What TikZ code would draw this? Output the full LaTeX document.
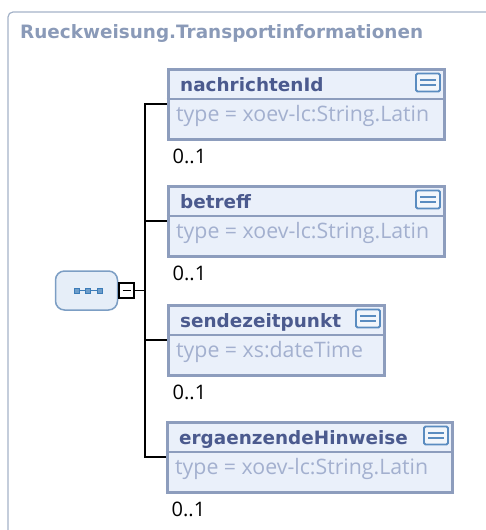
\documentclass[tikz,border=0pt]{standalone}
\usepackage{fontspec}
\setmainfont{Open Sans}
\newfontfamily\headfont{DejaVu Sans}

\definecolor{framegray}{HTML}{A4B2C8}
\definecolor{titlegray}{HTML}{8A9AB8}
\definecolor{boxborder}{HTML}{8D9DBD}
\definecolor{boxfill}{HTML}{EAF0FA}
\definecolor{headtext}{HTML}{4B5A8E}
\definecolor{typetext}{HTML}{A3B0CF}
\definecolor{iconblue}{HTML}{5A8CC0}
\definecolor{iconfill}{HTML}{F2F6FB}
\definecolor{seqborder}{HTML}{7C9EC4}
\definecolor{seqfill}{HTML}{E6EEF8}
\definecolor{seqdot}{HTML}{3C7CB8}

\begin{document}
\begin{tikzpicture}[x=1pt,y=-1pt,
  elem/.style={draw=boxborder,line width=3pt,fill=boxfill,minimum height=70pt,inner sep=0,anchor=north west},
  sepline/.style={draw=boxborder,line width=1.5pt},
  elemname/.style={anchor=base west,inner sep=0,text=headtext,font=\headfont\bfseries\fontsize{18.4}{21}\selectfont},
  elemtype/.style={anchor=base west,inner sep=0,text=typetext,font=\fontsize{21.3}{24}\selectfont},
  card/.style={anchor=north west,inner sep=0,font=\fontsize{20}{23}\selectfont},
  docicon/.style={draw=iconblue,line width=1.8pt,fill=iconfill,rounded corners=1.5pt,minimum width=24pt,minimum height=18pt,inner sep=0,
    path picture={\draw[iconblue,line width=1.2pt,sharp corners] ([xshift=-8pt,yshift=2.5pt]path picture bounding box.center) -- ++(16pt,0pt)
      ([xshift=-8pt,yshift=-2.5pt]path picture bounding box.center) -- ++(16pt,0pt);}},
  seqbox/.style={draw=seqborder,line width=1.5pt,fill=seqfill,rounded corners=9pt,minimum width=62pt,minimum height=39pt,inner sep=0,
    path picture={\draw[seqdot,line width=1pt,sharp corners] ([xshift=-10pt]path picture bounding box.center) -- ([xshift=13pt]path picture bounding box.center);
      \foreach \dx in {-10,1.5,13} \node[sharp corners,fill=seqdot!75,draw=seqdot,line width=0.6pt,minimum size=5pt,inner sep=0] at ([xshift=\dx pt]path picture bounding box.center) {};}},
  minusbox/.style={draw,line width=1.6pt,fill=white,minimum size=15.5pt,inner sep=0,
    path picture={\draw[line width=1.5pt] ([xshift=-4pt]path picture bounding box.center) -- ([xshift=4pt]path picture bounding box.center);}},
  conn/.style={line width=1.4pt}]

\useasboundingbox (0,0) rectangle (486,530);

% outer frame and title
\draw[framegray,line width=1.2pt,rounded corners=5pt] (8,540) -- (8,12) -- (496,12);
\node(title) [anchor=base west,inner sep=0,text=titlegray,font=\headfont\bfseries\fontsize{18.4}{21}\selectfont] at (20,38) {Rueckweisung.Transportinformationen};

% sequence
\node(seq) [seqbox] at (86.5,290.5) {};
\node(minus) [minusbox] at (126.5,290.5) {};
\coordinate(j) at (145,290.5);

% elements
\node(e1) [elem,minimum width=276pt] at (166.5,67.5) {};
\draw[sepline] ([yshift=-31.5pt]e1.north west) -- ([yshift=-31.5pt]e1.north east);
\node(n1) [elemname] at ([xshift=13.5pt,yshift=-24pt]e1.north west) {nachrichtenId};
\node(i1) [docicon] at ([xshift=-17.5pt,yshift=-15pt]e1.north east) {};
\node(t1) [elemtype] at ([xshift=9.5pt,yshift=-54pt]e1.north west) {type = xoev-lc:String.Latin};
\node(c1) [card] at ([xshift=6pt,yshift=-8pt]e1.south west) {0..1};

\node(e2) [elem,minimum width=276pt] at (166.5,184.5) {};
\draw[sepline] ([yshift=-31.5pt]e2.north west) -- ([yshift=-31.5pt]e2.north east);
\node(n2) [elemname] at ([xshift=13.5pt,yshift=-24pt]e2.north west) {betreff};
\node(i2) [docicon] at ([xshift=-17.5pt,yshift=-15pt]e2.north east) {};
\node(t2) [elemtype] at ([xshift=9.5pt,yshift=-54pt]e2.north west) {type = xoev-lc:String.Latin};
\node(c2) [card] at ([xshift=6pt,yshift=-8pt]e2.south west) {0..1};

\node(e3) [elem,minimum width=216pt] at (166.5,303.5) {};
\draw[sepline] ([yshift=-31.5pt]e3.north west) -- ([yshift=-31.5pt]e3.north east);
\node(n3) [elemname] at ([xshift=13.5pt,yshift=-24pt]e3.north west) {sendezeitpunkt};
\node(i3) [docicon] at ([xshift=-17.5pt,yshift=-15pt]e3.north east) {};
\node(t3) [elemtype] at ([xshift=9.5pt,yshift=-54pt]e3.north west) {type = xs:dateTime};
\node(c3) [card] at ([xshift=6pt,yshift=-8pt]e3.south west) {0..1};

\node(e4) [elem,minimum width=285pt] at (165.5,420.5) {};
\draw[sepline] ([yshift=-31.5pt]e4.north west) -- ([yshift=-31.5pt]e4.north east);
\node(n4) [elemname] at ([xshift=13.5pt,yshift=-24pt]e4.north west) {ergaenzendeHinweise};
\node(i4) [docicon] at ([xshift=-17.5pt,yshift=-15pt]e4.north east) {};
\node(t4) [elemtype] at ([xshift=9.5pt,yshift=-54pt]e4.north west) {type = xoev-lc:String.Latin};
\node(c4) [card] at ([xshift=6pt,yshift=-8pt]e4.south west) {0..1};

% connectors
\draw[conn] (seq) -- (minus);
\draw[conn] (minus) -- (j);
\draw[conn] (e1.west) -| (j) |- (e4.west);
\draw[conn] (e2.west) -- (e2.west -| j);
\draw[conn] (e3.west) -- (e3.west -| j);

\end{tikzpicture}
\end{document}
